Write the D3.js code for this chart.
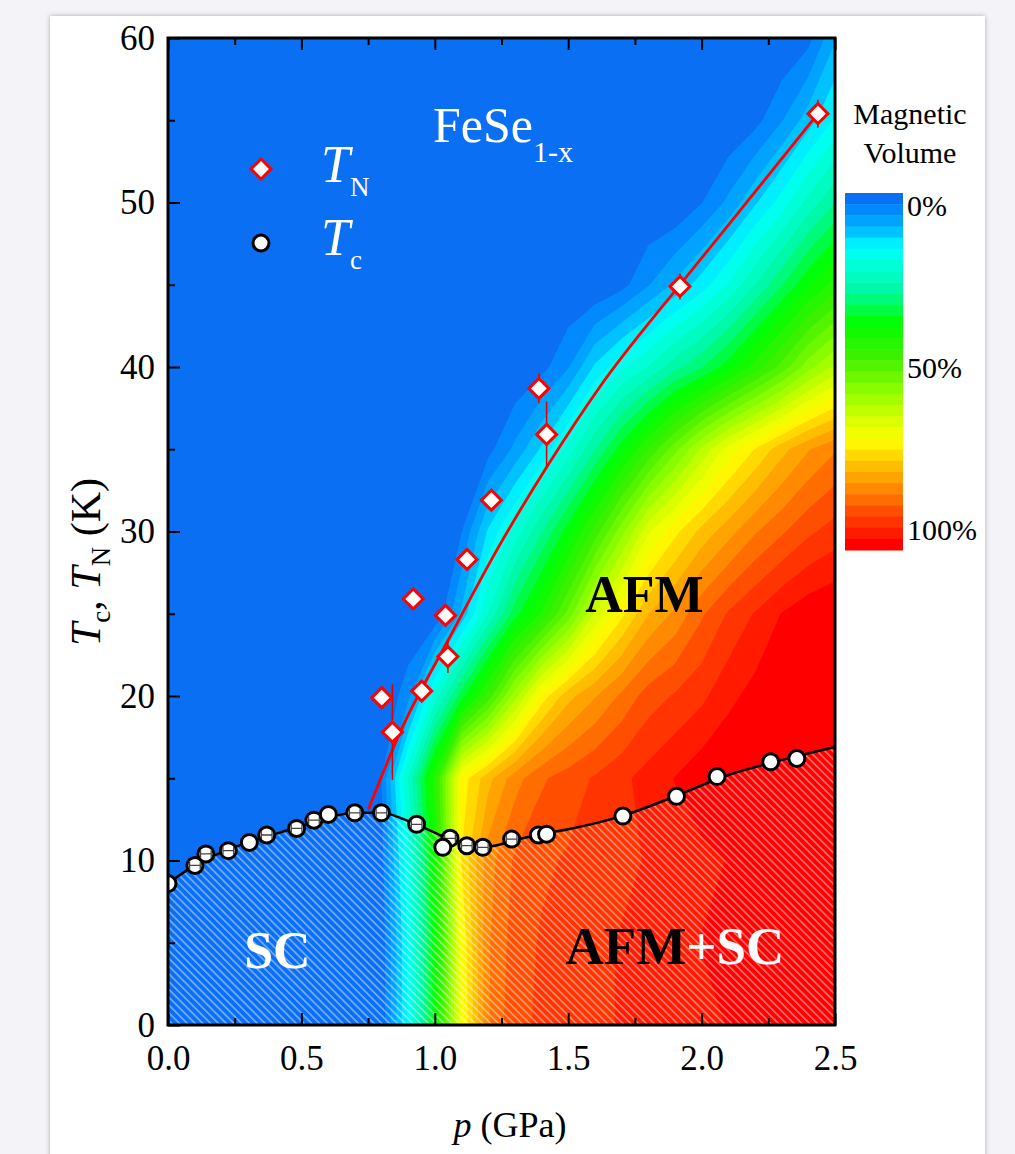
<!DOCTYPE html>
<html>
<head>
<meta charset="utf-8">
<script src="https://cdn.jsdelivr.net/npm/d3@7"></script>
<style>
  body { margin: 0; background: #f4f4f8; }
  svg { display: block; }
  text { font-family: "Liberation Serif", "Times New Roman", serif; }
</style>
</head>
<body>
<script>
// Neel temperature points (red diamonds)
const tnP = [0.801, 0.841, 0.919, 0.951, 1.04, 1.049, 1.121, 1.212, 1.39, 1.419, 1.919, 2.436];
const tnT = [19.9, 17.8, 25.9, 20.3, 24.9, 22.4, 28.3, 31.9, 38.7, 35.9, 44.9, 55.4];
const tnErr = [0, 2.9, 0, 0, 0, 1.0, 0, 0, 0.9, 2.0, 0.8, 0.85];

// superconducting Tc points (white circles)
const tcP = [0.0, 0.101, 0.142, 0.226, 0.305, 0.37, 0.482, 0.547, 0.601, 0.70, 0.80, 0.932, 1.057, 1.03, 1.12, 1.18, 1.288, 1.388, 1.419, 1.705, 1.906, 2.058, 2.259, 2.357];
const tcT = [8.6, 9.7, 10.4, 10.6, 11.1, 11.55, 11.95, 12.45, 12.8, 12.9, 12.9, 12.2, 11.35, 10.8, 10.9, 10.8, 11.3, 11.55, 11.6, 12.7, 13.9, 15.1, 16.0, 16.2];
const tcErrP = [0, 0.02, 0.02, 0.02, 0, 0.02, 0.02, 0.02, 0, 0.02, 0.02, 0.02, 0.02, 0, 0.02, 0.02, 0.02, 0, 0, 0, 0, 0, 0, 0];

// guide lines
const fitP = [0.751, 0.87, 1.057, 1.244, 1.419, 1.619, 1.919, 2.119, 2.436];
const fitT = [13.1, 17.8, 23.6, 29.2, 33.9, 38.8, 45.0, 49.0, 55.4];
const tcLineP = [0, 0.1, 0.2, 0.3, 0.4, 0.5, 0.6, 0.7, 0.8, 0.9, 1.0, 1.1, 1.2, 1.3, 1.4, 1.5, 1.7, 1.9, 2.1, 2.3, 2.5];
const tcLineT = [8.6, 9.7, 10.5, 11.1, 11.6, 12.1, 12.6, 12.9, 12.9, 12.4, 11.7, 11.0, 10.85, 11.25, 11.6, 11.9, 12.7, 13.9, 15.2, 16.1, 16.9];

// magnetic volume fraction (%) on a grid: columns = gridP, one array per temperature row
const gridP = [0, 0.1, 0.2, 0.3, 0.4, 0.5, 0.6, 0.7, 0.8, 0.9, 1.0, 1.1, 1.2, 1.3, 1.4, 1.5, 1.6, 1.7, 1.8, 1.9, 2.0, 2.1, 2.2, 2.3, 2.4, 2.5];
const gridT = [0, 5, 10, 15, 20, 25, 30, 35, 40, 45, 50, 55, 60];
const vol0  = [0, 0, 0, 0, 0, 0, 0, 0, 1, 16, 36, 68, 84, 90, 91, 92, 93, 94, 95, 96, 96, 97, 97, 97, 97, 97];
const vol5  = [0, 0, 0, 0, 0, 0, 0, 0, 1, 16, 37, 69, 84, 89, 91, 92, 93, 94, 95, 96, 97, 97, 97, 98, 98, 98];
const vol10 = [0, 0, 0, 0, 0, 0, 0, 0, 2, 18, 39, 72, 83, 88, 90, 91, 92, 93, 94, 95, 96, 97, 98, 98, 99, 99];
const vol15 = [0, 0, 0, 0, 0, 0, 0, 0, 3, 22, 42, 70, 77, 83, 87, 89, 91, 93, 95, 97, 99, 100, 100, 100, 100, 100];
const vol20 = [0, 0, 0, 0, 0, 0, 0, 0, 0, 5, 20, 33, 45, 58, 70, 77, 81, 85, 89, 91, 93, 96, 98, 99, 100, 100];
const vol25 = [0, 0, 0, 0, 0, 0, 0, 0, 0, 0, 0, 10, 22, 33, 41, 51, 63, 71, 78, 82, 87, 91, 94, 97, 99, 100];
const vol30 = [0, 0, 0, 0, 0, 0, 0, 0, 0, 0, 0, 3, 13, 20, 28, 36, 45, 55, 65, 71, 76, 80, 84, 87, 90, 92];
const vol35 = [0, 0, 0, 0, 0, 0, 0, 0, 0, 0, 0, 0, 2, 7, 13, 20, 28, 36, 44, 52, 60, 67, 72, 77, 81, 84];
const vol40 = [0, 0, 0, 0, 0, 0, 0, 0, 0, 0, 0, 0, 0, 0, 2, 6, 13, 18, 22, 27, 31, 36, 42, 48, 55, 60];
const vol45 = [0, 0, 0, 0, 0, 0, 0, 0, 0, 0, 0, 0, 0, 0, 0, 0, 0, 2, 6, 10, 14, 19, 25, 31, 37, 42];
const vol50 = [0, 0, 0, 0, 0, 0, 0, 0, 0, 0, 0, 0, 0, 0, 0, 0, 0, 0, 0, 0, 3, 7, 12, 17, 23, 28];
const vol55 = [0, 0, 0, 0, 0, 0, 0, 0, 0, 0, 0, 0, 0, 0, 0, 0, 0, 0, 0, 0, 0, 0, 2, 6, 11, 16];
const vol60 = [0, 0, 0, 0, 0, 0, 0, 0, 0, 0, 0, 0, 0, 0, 0, 0, 0, 0, 0, 0, 0, 0, 0, 0, 2, 9];

// colour map of the magnetic volume
const volStops  = [0, 4, 9, 14, 20, 27, 36, 46, 56, 64, 70, 77, 84, 91, 100];
const volColors = ['#0a6ff3', '#0090ff', '#00b8ff', '#00ffff', '#00ffd2', '#00f8a0', '#00ff00', '#40f000', '#90ff00', '#d8ff00', '#ffff00', '#ffc000', '#ff8800', '#ff4800', '#ff0000'];

const xTicks = [0, 0.5, 1.0, 1.5, 2.0, 2.5];
const yTicks = [0, 10, 20, 30, 40, 50, 60];
const legendLabels = ['0%', '50%', '100%'];

const width = 1015, height = 1154;
const plotLeft = 168, plotRight = 835, plotTop = 38, plotBottom = 1025;
const serif = '"Liberation Serif", "Times New Roman", serif';

const svg = d3.select('body').append('svg')
  .attr('width', width)
  .attr('height', height)
  .attr('font-family', serif);

const defs = svg.append('defs');
const shadow = defs.append('filter').attr('id', 'shadow')
  .attr('x', -0.05).attr('y', -0.05).attr('width', 1.1).attr('height', 1.1);
shadow.append('feDropShadow').attr('dx', 0).attr('dy', 0)
  .attr('stdDeviation', 2.5).attr('flood-opacity', 0.3);

defs.append('clipPath').attr('id', 'plotClip')
  .append('rect')
  .attr('x', plotLeft).attr('y', plotTop)
  .attr('width', plotRight - plotLeft).attr('height', plotBottom - plotTop);

const hatch = defs.append('pattern').attr('id', 'hatch')
  .attr('patternUnits', 'userSpaceOnUse')
  .attr('width', 5.5).attr('height', 5.5)
  .attr('patternTransform', 'rotate(45)');
hatch.append('line')
  .attr('x1', 0).attr('y1', 2.75).attr('x2', 5.5).attr('y2', 2.75)
  .attr('stroke', '#fff').attr('stroke-opacity', 0.6).attr('stroke-width', 1.2);

// card
svg.append('rect')
  .attr('x', 50).attr('y', 16)
  .attr('width', 935).attr('height', 1180)
  .attr('fill', '#fff')
  .attr('filter', 'url(#shadow)');

const x = d3.scaleLinear().domain([0, 2.5]).range([plotLeft, plotRight]);
const y = d3.scaleLinear().domain([0, 60]).range([plotBottom, plotTop]);

const volColor = d3.scaleLinear().domain(volStops).range(volColors).clamp(true);
const nBands = 32;
const bandColor = (i) => volColor(i * 100 / (nBands - 1));
const thresholds = d3.range(1, nBands).map((i) => i * 100 / nBands);

// ---- colour field ----
const plot = svg.append('g').attr('clip-path', 'url(#plotClip)');

plot.append('rect')
  .attr('x', plotLeft).attr('y', plotTop)
  .attr('width', plotRight - plotLeft).attr('height', plotBottom - plotTop)
  .attr('fill', bandColor(0));

const values = [].concat(vol0, vol5, vol10, vol15, vol20, vol25, vol30, vol35, vol40, vol45, vol50, vol55, vol60);
const contours = d3.contours()
  .size([gridP.length, gridT.length])
  .thresholds(thresholds)(values);

const gx = d3.scaleLinear().domain([0.5, gridP.length - 0.5]).range([x(gridP[0]), x(gridP[gridP.length - 1])]);
const gy = d3.scaleLinear().domain([0.5, gridT.length - 0.5]).range([y(gridT[0]), y(gridT[gridT.length - 1])]);
const gridPath = d3.geoPath(d3.geoTransform({
  point: function(px, py) { this.stream.point(gx(px), gy(py)); }
}));

plot.selectAll('path.band')
  .data(contours)
  .enter()
  .append('path')
  .attr('class', 'band')
  .attr('d', gridPath)
  .attr('fill', (d, i) => bandColor(i + 1));

// hatched SC region under the Tc line
const tcLine = tcLineP.map((p, i) => [p, tcLineT[i]]);
plot.append('path')
  .datum(tcLine)
  .attr('d', d3.area()
    .x((d) => x(d[0]))
    .y0(y(0))
    .y1((d) => y(d[1]))
    .curve(d3.curveMonotoneX))
  .attr('fill', 'url(#hatch)');

// red fit line for TN
plot.append('path')
  .datum(fitP.map((p, i) => [p, fitT[i]]))
  .attr('d', d3.line().x((d) => x(d[0])).y((d) => y(d[1])).curve(d3.curveMonotoneX))
  .attr('fill', 'none')
  .attr('stroke', '#ff0000')
  .attr('stroke-width', 2.8);

// black Tc line
plot.append('path')
  .datum(tcLine)
  .attr('d', d3.line().x((d) => x(d[0])).y((d) => y(d[1])).curve(d3.curveMonotoneX))
  .attr('fill', 'none')
  .attr('stroke', '#000')
  .attr('stroke-width', 2.5);

// labels in the field
plot.append('text')
  .attr('x', x(1.786)).attr('y', 612)
  .attr('text-anchor', 'middle')
  .attr('font-size', 52).attr('font-weight', 'bold')
  .attr('fill', '#000')
  .text('AFM');

plot.append('text')
  .attr('x', x(0.41)).attr('y', 968)
  .attr('text-anchor', 'middle')
  .attr('font-size', 52).attr('font-weight', 'bold')
  .attr('fill', '#fff')
  .text('SC');

const mixed = plot.append('text')
  .attr('x', x(1.9)).attr('y', 964)
  .attr('text-anchor', 'middle')
  .attr('font-size', 53).attr('font-weight', 'bold');
mixed.append('tspan').attr('fill', '#000').text('AFM');
mixed.append('tspan').attr('fill', '#fff').text('+SC');

const fese = plot.append('text')
  .attr('x', 433).attr('y', 142)
  .attr('fill', '#fff')
  .attr('font-size', 50);
fese.append('tspan').text('FeSe');
fese.append('tspan').attr('font-size', 30).attr('dy', 20).text('1-x');

// TN error bars and diamonds
const diamond = d3.symbol(d3.symbolSquare, 200);
tnP.forEach((p, i) => {
  if (tnErr[i] > 0) {
    plot.append('line')
      .attr('x1', x(p)).attr('x2', x(p))
      .attr('y1', y(tnT[i] - tnErr[i])).attr('y2', y(tnT[i] + tnErr[i]))
      .attr('stroke', '#e00000')
      .attr('stroke-width', 1.5);
  }
});
plot.selectAll('path.tn')
  .data(tnP)
  .enter()
  .append('path')
  .attr('class', 'tn')
  .attr('d', diamond)
  .attr('transform', (d, i) => 'translate(' + x(d) + ',' + y(tnT[i]) + ') rotate(45)')
  .attr('fill', '#fff')
  .attr('stroke', '#ff0000')
  .attr('stroke-width', 3);

// Tc circles, each with its small pressure error bar
tcP.forEach((p, i) => {
  const g = plot.append('g');
  const cx = x(p), cy = y(tcT[i]);
  g.append('circle')
    .attr('cx', cx).attr('cy', cy).attr('r', 8)
    .attr('fill', '#fff')
    .attr('stroke', '#000')
    .attr('stroke-width', 3);
  if (tcErrP[i] > 0) {
    const x0 = x(p - tcErrP[i]), x1 = x(p + tcErrP[i]);
    g.append('path')
      .attr('d', 'M' + x0 + ',' + cy + 'H' + x1
        + 'M' + x0 + ',' + (cy - 4) + 'V' + (cy + 4)
        + 'M' + x1 + ',' + (cy - 4) + 'V' + (cy + 4))
      .attr('fill', 'none')
      .attr('stroke', '#444')
      .attr('stroke-width', 1.3);
  }
});

// in-plot legend
const lg = svg.append('g');
lg.append('path')
  .attr('d', diamond)
  .attr('transform', 'translate(261,169) rotate(45)')
  .attr('fill', '#fff').attr('stroke', '#ff0000').attr('stroke-width', 3);
lg.append('circle')
  .attr('cx', 261).attr('cy', 243).attr('r', 8)
  .attr('fill', '#fff').attr('stroke', '#000').attr('stroke-width', 3);

[['N', 182], ['c', 255]].forEach((d) => {
  const t = lg.append('text').attr('x', 321).attr('y', d[1]).attr('fill', '#fff');
  t.append('tspan').attr('font-size', 52).attr('font-style', 'italic').text('T');
  t.append('tspan').attr('font-size', 27).attr('dy', 14).text(d[0]);
});

// ---- axes ----
const axisBottom = svg.append('g')
  .attr('transform', 'translate(0,' + plotBottom + ')')
  .call(d3.axisBottom(x).tickValues(xTicks).tickFormat(d3.format('.1f')).tickSize(-12));
axisBottom.selectAll('text').attr('dy', null).attr('y', 45);

svg.append('g')
  .attr('transform', 'translate(0,' + plotBottom + ')')
  .call(d3.axisBottom(x).tickValues([0.25, 0.75, 1.25, 1.75, 2.25]).tickFormat('').tickSize(-7));

svg.append('g')
  .attr('transform', 'translate(0,' + plotTop + ')')
  .call(d3.axisTop(x).tickValues(xTicks).tickFormat('').tickSize(-12));
svg.append('g')
  .attr('transform', 'translate(0,' + plotTop + ')')
  .call(d3.axisTop(x).tickValues([0.25, 0.75, 1.25, 1.75, 2.25]).tickFormat('').tickSize(-7));

const axisLeft = svg.append('g')
  .attr('transform', 'translate(' + plotLeft + ',0)')
  .call(d3.axisLeft(y).tickValues(yTicks).tickSize(-12));
axisLeft.selectAll('text').attr('x', -13);

svg.append('g')
  .attr('transform', 'translate(' + plotLeft + ',0)')
  .call(d3.axisLeft(y).tickValues([5, 15, 25, 35, 45, 55]).tickFormat('').tickSize(-7));

svg.selectAll('.domain').remove();
svg.selectAll('.tick line').attr('stroke', '#000').attr('stroke-width', 2);
svg.selectAll('.tick text')
  .attr('font-family', serif)
  .attr('font-size', 35)
  .attr('fill', '#000');

// frame
svg.append('rect')
  .attr('x', plotLeft).attr('y', plotTop)
  .attr('width', plotRight - plotLeft).attr('height', plotBottom - plotTop)
  .attr('fill', 'none')
  .attr('stroke', '#000')
  .attr('stroke-width', 3);

// axis titles
const xTitle = svg.append('text')
  .attr('x', 510).attr('y', 1137)
  .attr('text-anchor', 'middle')
  .attr('font-size', 36);
xTitle.append('tspan').attr('font-style', 'italic').text('p');
xTitle.append('tspan').text(' (GPa)');

const yTitle = svg.append('text')
  .attr('transform', 'translate(100,562) rotate(-90)')
  .attr('text-anchor', 'middle')
  .attr('font-size', 42);
yTitle.append('tspan').attr('font-style', 'italic').text('T');
yTitle.append('tspan').attr('font-size', 27).attr('dy', 10).text('c');
yTitle.append('tspan').attr('dy', -10).text(', ');
yTitle.append('tspan').attr('font-style', 'italic').text('T');
yTitle.append('tspan').attr('font-size', 27).attr('dy', 10).text('N');
yTitle.append('tspan').attr('dy', -10).text(' (K)');

// ---- colour bar legend ----
const barX = 845, barW = 58, barTop = 193, barBottom = 550;
const barStep = (barBottom - barTop) / nBands;
svg.append('g').selectAll('rect')
  .data(d3.range(nBands))
  .enter()
  .append('rect')
  .attr('x', barX)
  .attr('y', (d) => barTop + d * barStep)
  .attr('width', barW)
  .attr('height', barStep + 0.5)
  .attr('fill', (d) => bandColor(d));

const labelY = d3.scalePoint().domain(legendLabels).range([216, 540]);
svg.append('g').selectAll('text')
  .data(legendLabels)
  .enter()
  .append('text')
  .attr('x', 907)
  .attr('y', (d) => labelY(d))
  .attr('font-size', 30)
  .text((d) => d);

svg.append('text')
  .attr('x', 910).attr('y', 124)
  .attr('text-anchor', 'middle')
  .attr('font-size', 30)
  .text('Magnetic');
svg.append('text')
  .attr('x', 910).attr('y', 163)
  .attr('text-anchor', 'middle')
  .attr('font-size', 30)
  .text('Volume');
</script>
</body>
</html>
